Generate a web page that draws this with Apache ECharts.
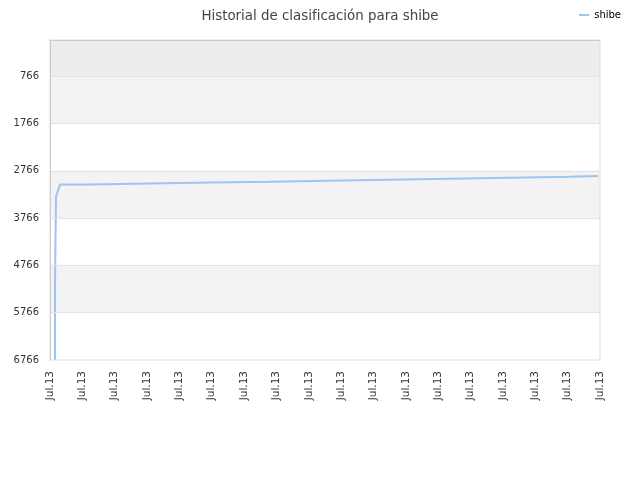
<!DOCTYPE html>
<html lang="es">
  <head>
    <meta charset="UTF-8">
    <title>Historial de clasificación para shibe</title>
    <script src="https://cdn.jsdelivr.net/npm/echarts@6/dist/echarts.min.js"></script>
    <style>
      html, body { margin: 0; padding: 0; background: #fff; }
    </style>
  </head>
  <body>
    <div id="main" style="width: 640px;height:480px;"></div>
    <script type="text/javascript">
      // etiquetas del eje x (una por marca)
      var xLabels = ['Jul.13', 'Jul.13', 'Jul.13', 'Jul.13', 'Jul.13', 'Jul.13',
                     'Jul.13', 'Jul.13', 'Jul.13', 'Jul.13', 'Jul.13', 'Jul.13',
                     'Jul.13', 'Jul.13', 'Jul.13', 'Jul.13', 'Jul.13', 'Jul.13'];
      // marcas del eje y (posición en la clasificación)
      var yTicks = [766, 1766, 2766, 3766, 4766, 5766, 6766];

      // esquinas de la línea: posición x y clasificación
      var rankX = [0.155, 0.155, 0.185, 0.185, 0.31, 1.236, 1.236, 3.09, 3.09,
                   4.945, 4.945, 6.8, 6.8, 8.62, 8.62, 10.48, 10.48,
                   12.33, 12.33, 14.19, 14.19, 16.04, 16.04, 16.94];
      var rankY = [6766, 5176, 5176, 3311, 3057, 3057, 3034, 3034, 3015,
                   3015, 2996, 2996, 2975, 2975, 2954, 2954, 2932,
                   2932, 2911, 2911, 2892, 2892, 2873, 2873];

      var points = rankX.map(function (x, i) { return [x, rankY[i]]; });

      // bandas de fondo alternas
      var bands = [[0, 766, '#ededed'], [766, 1766, '#f3f3f3'],
                   [2766, 3766, '#f3f3f3'], [4766, 5766, '#f3f3f3']];

      var myChart = echarts.init(document.getElementById('main'));

      var option = {
        animation: false,
        textStyle: { fontFamily: 'DejaVu Sans' },
        title: {
          text: 'Historial de clasificación para shibe',
          left: 'center',
          top: 5,
          textStyle: { fontSize: 13.4, fontWeight: 'normal', color: '#444' }
        },
        legend: {
          data: ['shibe'],
          right: 14,
          top: 5,
          itemWidth: 10,
          itemHeight: 2,
          itemGap: 6,
          icon: 'rect',
          textStyle: { fontSize: 10, color: '#000' }
        },
        grid: {
          left: 50, right: 40, top: 40, bottom: 120,
          show: true,
          z: 5,
          backgroundColor: 'transparent',
          borderColor: '#dddddd',
          borderWidth: 1
        },
        xAxis: {
          type: 'value',
          min: 0,
          max: xLabels.length - 1,
          interval: 1,
          z: 6,
          splitLine: { show: false },
          axisTick: { show: false },
          axisLine: { lineStyle: { color: '#cccccc' } },
          axisLabel: {
            rotate: 90,
            fontSize: 10.5,
            color: '#333',
            margin: 11,
            showMinLabel: true,
            showMaxLabel: true,
            formatter: function (v) { return xLabels[Math.round(v)]; }
          }
        },
        yAxis: {
          type: 'value',
          inverse: true,
          min: 0,
          max: 6766,
          z: 6,
          splitLine: { show: false },
          axisTick: { show: false },
          axisLine: { show: true, lineStyle: { color: '#cccccc' } },
          axisLabel: {
            customValues: yTicks,
            fontSize: 10,
            color: '#333',
            margin: 11,
            formatter: function (v) { return String(v); }
          }
        },
        series: [{
          name: 'shibe',
          type: 'line',
          data: points,
          showSymbol: false,
          symbol: 'none',
          color: '#99c6f2',
          lineStyle: { width: 2, color: '#99c6f2' },
          markArea: {
            silent: true,
            data: bands.map(function (b) {
              return [{ yAxis: b[0], itemStyle: { color: b[2] } }, { yAxis: b[1] }];
            })
          },
          markLine: {
            silent: true,
            symbol: 'none',
            label: { show: false },
            lineStyle: { color: '#e3e3e3', type: 'solid', width: 1 },
            data: yTicks.slice(0, -1).map(function (t) { return { yAxis: t }; })
          }
        }]
      };

      myChart.setOption(option);
    </script>
  </body>
</html>
